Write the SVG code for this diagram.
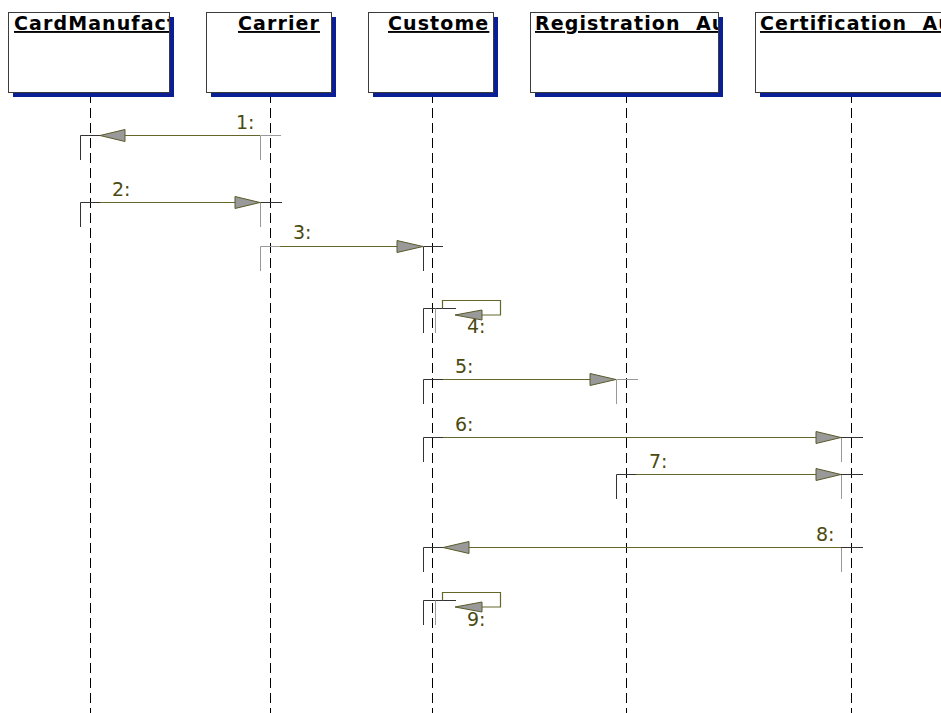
<svg xmlns="http://www.w3.org/2000/svg" width="941" height="713" viewBox="0 0 941 713">
<style>
.box{fill:#fff;stroke:#3c3c3c;stroke-width:1}
.shadow{fill:#0a1e96}
.title{font-family:"DejaVu Sans",Verdana,sans-serif;font-weight:bold;font-size:19px;letter-spacing:1.1px;fill:#000;text-decoration:underline;white-space:pre}
.life{stroke:#000;stroke-width:1;stroke-dasharray:10,5;fill:none}
.msg{stroke:#66662a;stroke-width:1.2;fill:none}
.dk{stroke:#333;stroke-width:1;fill:none}
.gr{stroke:#999;stroke-width:1;fill:none}
.head{fill:#999;stroke:#5a5a2a;stroke-width:1}
.lbl{font-family:"DejaVu Sans",Verdana,sans-serif;font-size:19px;fill:#4a4a10}
</style>
<defs>
<clipPath id="c1"><rect x="9" y="13" width="160" height="79"/></clipPath>
<clipPath id="c2"><rect x="207" y="13" width="124" height="79"/></clipPath>
<clipPath id="c3"><rect x="369" y="13" width="124" height="79"/></clipPath>
<clipPath id="c4"><rect x="531" y="13" width="187" height="79"/></clipPath>
<clipPath id="c5"><rect x="756" y="13" width="185" height="79"/></clipPath>
</defs>
<rect width="941" height="713" fill="#fff"/>
<g id="lifelines">
<line class="life" x1="90.5" y1="93" x2="90.5" y2="713"/>
<line class="life" x1="270.5" y1="93" x2="270.5" y2="713"/>
<line class="life" x1="432.5" y1="93" x2="432.5" y2="713"/>
<line class="life" x1="626.5" y1="93" x2="626.5" y2="713"/>
<line class="life" x1="851.5" y1="93" x2="851.5" y2="713"/>
</g>
<g id="CardManufacturer">
<rect class="shadow" x="13" y="17" width="161" height="80"/>
<rect class="box" x="8.5" y="12.5" width="161" height="80"/>
<text class="title" x="14" y="30" clip-path="url(#c1)">CardManufact</text>
</g>
<g id="Carrier">
<rect class="shadow" x="211" y="17" width="125" height="80"/>
<rect class="box" x="206.5" y="12.5" width="125" height="80"/>
<text class="title" x="238" y="30" clip-path="url(#c2)">Carrier</text>
</g>
<g id="Customer">
<rect class="shadow" x="373" y="17" width="125" height="80"/>
<rect class="box" x="368.5" y="12.5" width="125" height="80"/>
<text class="title" x="388" y="30" clip-path="url(#c3)">Custome</text>
</g>
<g id="RegistrationAuthority">
<rect class="shadow" x="535" y="17" width="188" height="80"/>
<rect class="box" x="530.5" y="12.5" width="188" height="80"/>
<text class="title" x="535" y="30" clip-path="url(#c4)">Registration  Au</text>
</g>
<g id="CertificationAuthority">
<rect class="shadow" x="760" y="17" width="200" height="80"/>
<rect class="box" x="755.5" y="12.5" width="200" height="80"/>
<text class="title" x="760" y="30" clip-path="url(#c5)">Certification  Au</text>
</g>
<g id="connectors">
<!-- 1 -->
<path class="dk" d="M80.5,160 V135.5 H100"/>
<path class="gr" d="M260.5,160 V135.5 H281"/>
<line class="msg" x1="125" y1="135.5" x2="260" y2="135.5"/>
<polygon class="head" points="100,135.5 125,129.5 125,141.5"/>
<!-- 2 -->
<path class="dk" d="M80.5,227 V202.5 H100"/>
<path class="dk" d="M260,202.5 H282"/>
<path class="gr" d="M260.5,202.5 V227"/>
<line class="msg" x1="100" y1="202.5" x2="235" y2="202.5"/>
<polygon class="head" points="260,202.5 235,196.5 235,208.5"/>
<!-- 3 -->
<path class="gr" d="M260.5,271 V246.5 H280"/>
<path class="dk" d="M423.5,271 V246.5 H443"/>
<line class="msg" x1="280" y1="246.5" x2="397" y2="246.5"/>
<polygon class="head" points="423,246.5 397,240.5 397,252.5"/>
<!-- 4 -->
<path class="dk" d="M423.5,333 V308.5 H456"/>
<path class="gr" d="M435.5,308.5 V333"/>
<path class="msg" d="M442.5,308.5 V300.5 H500.5 V315 H482"/>
<polygon class="head" points="455,315 482,310 482,320"/>
<!-- 5 -->
<path class="dk" d="M423.5,404 V379.5 H443"/>
<path class="gr" d="M616.5,404 V379.5 H638"/>
<line class="msg" x1="443" y1="379.5" x2="590" y2="379.5"/>
<polygon class="head" points="616,379.5 590,373.5 590,385.5"/>
<!-- 6 -->
<path class="dk" d="M423.5,462 V437.5 H443"/>
<path class="gr" d="M841.5,437.5 V462"/>
<path class="dk" d="M841,437.5 H863"/>
<line class="msg" x1="443" y1="437.5" x2="816" y2="437.5"/>
<polygon class="head" points="841,437.5 816,431.5 816,443.5"/>
<!-- 7 -->
<path class="dk" d="M616.5,499 V474.5 H636"/>
<path class="gr" d="M841.5,474.5 V499"/>
<path class="dk" d="M841,474.5 H863"/>
<line class="msg" x1="636" y1="474.5" x2="816" y2="474.5"/>
<polygon class="head" points="841,474.5 816,468.5 816,480.5"/>
<!-- 8 -->
<path class="dk" d="M423.5,572 V547.5 H443"/>
<path class="gr" d="M841.5,547.5 V572"/>
<path class="dk" d="M841,547.5 H863"/>
<line class="msg" x1="469" y1="547.5" x2="841" y2="547.5"/>
<polygon class="head" points="443,547.5 469,541.5 469,553.5"/>
<!-- 9 -->
<path class="dk" d="M423.5,625 V600.5 H456"/>
<path class="gr" d="M435.5,600.5 V625"/>
<path class="msg" d="M442.5,600.5 V592.5 H500.5 V607 H482"/>
<polygon class="head" points="455,607 482,602 482,612"/>
</g>
<g id="labels">
<text class="lbl" x="236" y="129">1:</text>
<text class="lbl" x="112" y="196">2:</text>
<text class="lbl" x="293" y="239">3:</text>
<text class="lbl" x="467" y="333">4:</text>
<text class="lbl" x="455" y="373">5:</text>
<text class="lbl" x="455" y="431">6:</text>
<text class="lbl" x="649" y="468">7:</text>
<text class="lbl" x="816" y="541">8:</text>
<text class="lbl" x="467" y="626">9:</text>
</g>
</svg>
